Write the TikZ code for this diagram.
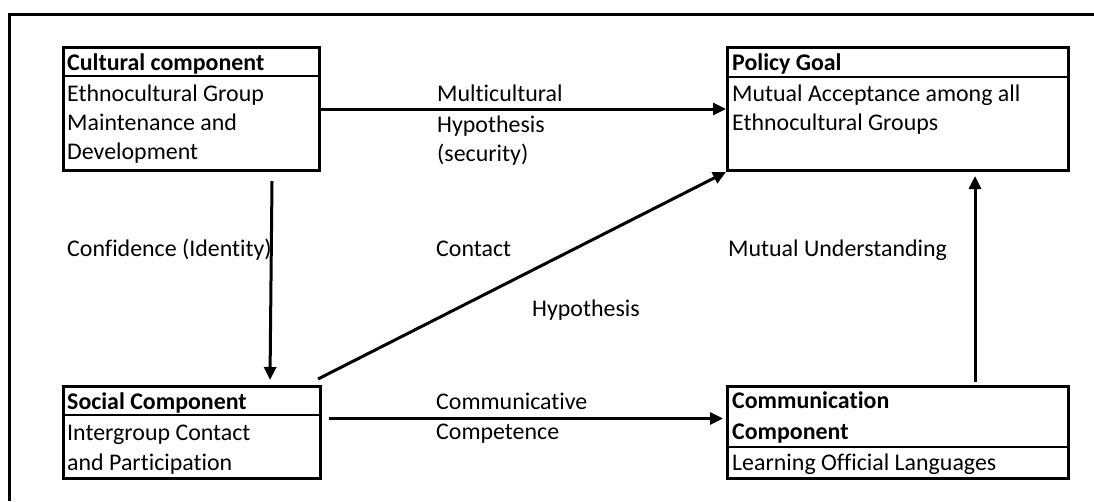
\documentclass[tikz,border=0pt]{standalone}
\usepackage{fontspec}
\setmainfont{Carlito}[Ligatures={NoCommon}]
\usetikzlibrary{arrows.meta,calc}
\newcommand{\diagfont}{\fontsize{23.9}{29}\selectfont}
\begin{document}
\begin{tikzpicture}[x=1pt,y=-1pt,
  panel/.style={draw, line width=3pt, inner sep=0, anchor=north west},
  divider/.style={line width=2pt},
  conn/.style={line width=3pt, -{Triangle[length=13pt,width=12pt]}},
  txt/.style={anchor=base west, inner sep=0, font=\diagfont},
  head/.style={txt, font=\diagfont\bfseries}]
\useasboundingbox (0,0) rectangle (1094,501);

% open frame around the figure
\coordinate (frameR) at (1094,14);
\coordinate (frameC) at (9,14);
\coordinate (frameB) at (9,501);
\draw[line width=3pt] (frameR) -- (frameC) -- (frameB);

% the four component panels
\node[panel, minimum width=256, minimum height=123] (cult) at (62,46) {};
\node[panel, minimum width=257, minimum height=92]  (soc)  at (62,385) {};
\node[panel, minimum width=341, minimum height=123] (pol)  at (726,46) {};
\node[panel, minimum width=341, minimum height=92]  (com)  at (726,385) {};

% header dividers
\draw[divider] ($(cult.north west)+(0,30)$) -- ($(cult.north east)+(0,30)$);
\draw[divider] ($(soc.north west)+(0,30)$) -- ($(soc.north east)+(0,30)$);
\draw[divider] ($(pol.north west)+(0,31)$) -- ($(pol.north east)+(0,31)$);
\draw[divider] ($(com.north west)+(0,62)$) -- ($(com.north east)+(0,62)$);

% panel texts
\node[head] (cultH) at (67,70) {Cultural component};
\node[txt] (cult1) at (67,101) {Ethnocultural Group};
\node[txt] (cult2) at (67,130) {Maintenance and};
\node[txt] (cult3) at (67,159) {Development};

\node[head] (socH) at (67,409) {Social Component};
\node[txt] (soc1) at (67,440) {Intergroup Contact};
\node[txt] (soc2) at (67,470) {and Participation};

\node[head] (polH) at (732,70) {Policy Goal};
\node[txt] (pol1) at (732,101) {Mutual Acceptance among all};
\node[txt] (pol2) at (732,130) {Ethnocultural Groups};

\node[head] (comH1) at (732,408) {Communication};
\node[head] (comH2) at (732,439) {Component};
\node[txt] (com1) at (732,470) {Learning Official Languages};

% connectors
\draw[conn] (cult.east) -- (pol.west);
\draw[conn] ($(cult.south west)+(210,9)$) -- ($(soc.north west)+(208,-5)$);
\draw[conn] ($(soc.north east)+(-4,-6)$) -- (pol.south west);
\draw[conn] ($(soc.east)+(7,-14)$) -- ($(com.west)+(-3,-14)$);
\draw[conn] ($(com.north west)+(249,-3)$) -- ($(pol.south west)+(249,4)$);

% connector labels
\node[txt] (lMul1) at (437,101) {Multicultural};
\node[txt] (lMul2) at (437,132) {Hypothesis};
\node[txt] (lMul3) at (437,161) {(security)};
\node[txt] (lConf) at (67,256) {Confidence (Identity)};
\node[txt] (lCon1) at (436,256) {Contact};
\node[txt] (lCon2) at (532,316) {Hypothesis};
\node[txt] (lMU) at (728,256) {Mutual Understanding};
\node[txt] (lCC1) at (436,409) {Communicative};
\node[txt] (lCC2) at (436,439) {Competence};
\end{tikzpicture}
\end{document}
